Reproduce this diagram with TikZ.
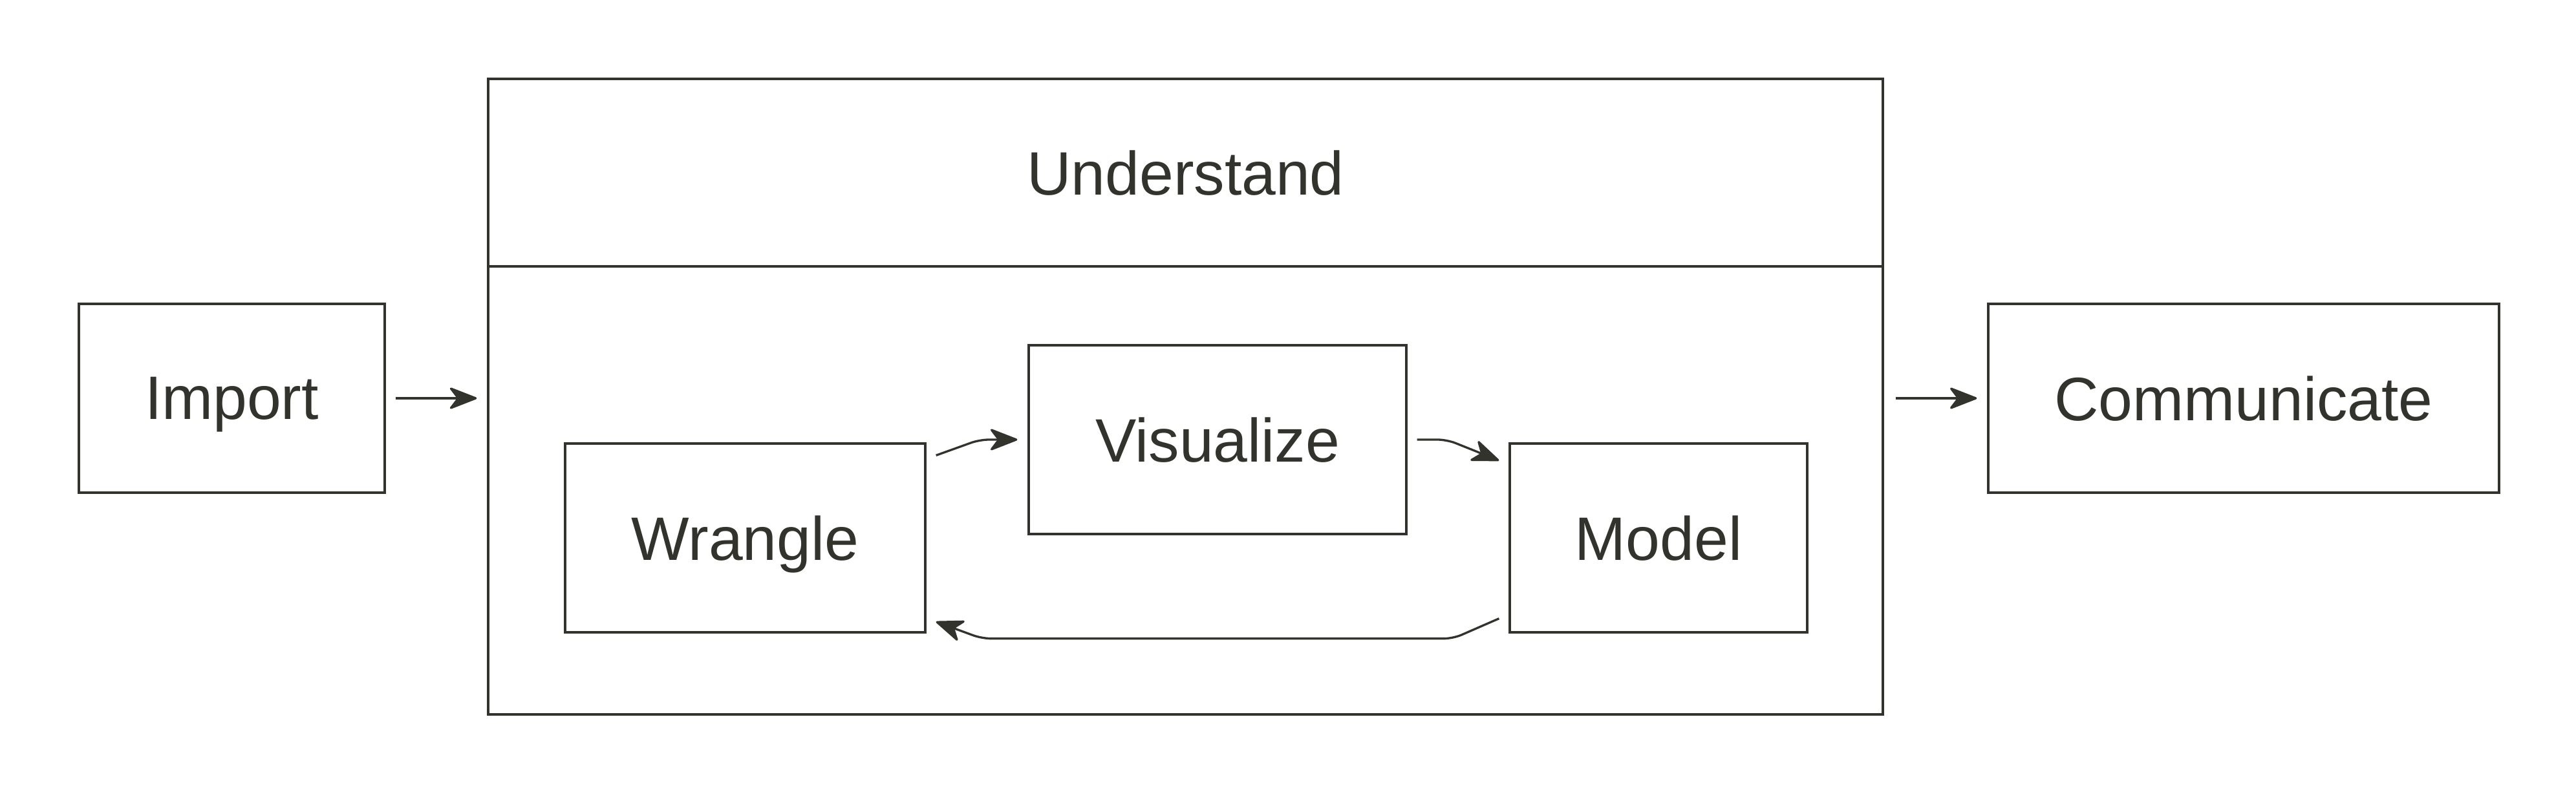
\documentclass[tikz,border=0pt]{standalone}
\usepackage{fontspec}
\setmainfont{Liberation Sans}
\usetikzlibrary{arrows.meta}
\definecolor{ink}{RGB}{51,51,46}

\begin{document}
\begin{tikzpicture}[>={Stealth[length=13.5pt,width=10.5pt,inset=4pt,round]},
  line width=.95pt, color=ink,
  stage/.style={draw, inner sep=0pt, text depth=0pt, minimum height=2.92cm, font=\fontsize{27}{32}\selectfont},
  flow/.style={->, rounded corners=4pt}]
\useasboundingbox[fill=white] (0,0) rectangle (39.84,12.24);
% outer stages
\node[stage, minimum width=4.73cm] (import) at (3.585,6.08) {Import};
\node[stage, minimum width=7.90cm] (communicate) at (34.70,6.08) {Communicate};
\node[draw, inner sep=0pt, minimum width=21.57cm, minimum height=9.83cm] (outer) at (18.335,6.105) {};
\node[stage, anchor=north, minimum width=21.57cm, minimum height=2.90cm] (understand) at (outer.north) {Understand};
% inner loop
\node[stage, minimum width=5.57cm] (wrangle) at (11.525,3.92) {Wrangle};
\node[stage, minimum width=5.84cm] (visualize) at (18.83,5.44) {Visualize};
\node[stage, minimum width=4.60cm] (model) at (25.65,3.92) {Model};
\draw[->, shorten <=.15cm, shorten >=.16cm] (import.east) -- (import.east -| outer.west);
\draw[->, shorten <=.18cm, shorten >=.16cm] (outer.east |- communicate.west) -- (communicate.west);
\draw[flow] ([shift={(.15,-.2)}]wrangle.north east) -- ([xshift=-.74cm]visualize.west) -- ([xshift=-.16cm]visualize.west);
\draw[flow] ([xshift=.15cm]visualize.east) -- ([xshift=.61cm]visualize.east) -- ([shift={(-.15,-.28)}]model.north west);
\draw[flow] ([shift={(-.15,.23)}]model.south west) -- ([shift={(-.86,-.08)}]model.south west)
  -- ([shift={(.86,-.08)}]wrangle.south east) -- ([shift={(.15,.18)}]wrangle.south east);
\end{tikzpicture}
\end{document}
